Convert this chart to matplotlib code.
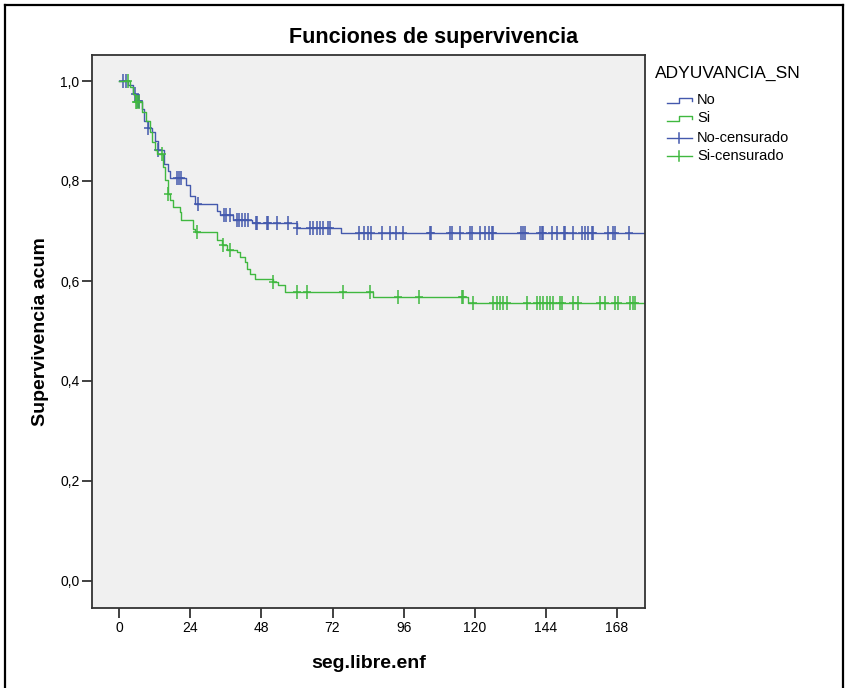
import matplotlib.pyplot as plt
import numpy as np
from matplotlib.lines import Line2D
from matplotlib.path import Path

plt.rcParams['font.family'] = ['Liberation Sans', 'DejaVu Sans']

# Kaplan-Meier steps (time in months, survival level after the step)
no_times = [0, 3.0, 4.7, 6.2, 7.6, 8.3, 9.8, 10.9, 12.0, 13.2, 15.2, 16.3, 17.1, 22.7, 23.9,
            25.6, 32.9, 34.0, 38.5, 44.7, 59.9, 75.0]
no_surv = [1.0, 0.992, 0.975, 0.960, 0.945, 0.920, 0.906, 0.898, 0.880, 0.862, 0.835, 0.820,
           0.806, 0.793, 0.770, 0.755, 0.740, 0.733, 0.723, 0.716, 0.706, 0.697]
no_censored = [1.4, 2.2, 5.3, 6.4, 6.8, 9.8, 13.2, 19.4, 20.2, 21.0, 26.7, 35.3, 36.2, 37.5,
               39.6, 40.5, 41.5, 42.5, 43.5, 46.0, 46.4, 49.8, 50.3, 53.1, 57.0, 59.9, 64.4,
               65.5, 66.6, 67.7, 68.9, 70.6, 71.1, 81.0, 82.5, 84.0, 85.0, 88.6, 91.4, 93.6,
               95.9, 104.9, 105.2, 111.6, 112.2, 115.0, 118.4, 119.0, 121.8, 123.5, 125.0,
               125.7, 126.3, 135.8, 136.4, 137.0, 142.0, 142.6, 143.1, 146.0, 147.7, 150.0,
               150.5, 153.3, 156.1, 157.2, 158.4, 159.5, 160.0, 165.0, 166.8, 167.3, 172.2]

si_times = [0, 3.6, 4.7, 5.3, 7.6, 9.0, 10.4, 10.9, 12.0, 12.6, 14.9, 15.5, 16.5, 17.1, 18.2,
            20.5, 21.0, 25.0, 25.6, 32.9, 34.6, 36.5, 39.6, 40.9, 42.4, 43.0, 44.1, 45.8, 52.0,
            53.7, 55.9, 85.8, 117.8]
si_surv = [1.0, 0.989, 0.975, 0.959, 0.939, 0.920, 0.899, 0.879, 0.862, 0.855, 0.829, 0.802,
           0.775, 0.762, 0.749, 0.739, 0.722, 0.705, 0.699, 0.682, 0.672, 0.662, 0.659, 0.649,
           0.639, 0.625, 0.615, 0.605, 0.599, 0.592, 0.579, 0.569, 0.557]
si_censored = [3.0, 5.5, 6.0, 6.8, 14.3, 16.5, 26.1, 35.1, 37.4, 52.0, 59.9, 63.3, 75.6, 84.6,
               94.2, 101.2, 115.6, 116.1, 119.5, 126.3, 127.4, 128.5, 129.6, 130.8, 137.5,
               140.9, 142.0, 143.1, 144.3, 145.4, 146.5, 148.8, 149.4, 153.3, 155.0, 162.3,
               164.0, 167.4, 168.5, 172.4, 173.5, 174.1]

x_ticks = [0, 24, 48, 72, 96, 120, 144, 168]
y_ticks = [0.0, 0.2, 0.4, 0.6, 0.8, 1.0]

blue = '#4459ad'
green = '#40b840'
W, H = 850, 688

# censor mark: tall vertical bar with a short cross arm
cens_mark = Path([(-0.28, 0), (0.28, 0), (0, -0.5), (0, 0.5)],
                 [Path.MOVETO, Path.LINETO, Path.MOVETO, Path.LINETO])


def px(x, y):
    # pixel position (from top-left) -> figure fraction
    return x / W, 1 - y / H


def draw_km(ax, times, surv, censored, color):
    t = list(times) + [180]
    s = list(surv) + [surv[-1]]
    ax.step(t, s, where='post', color=color, lw=1.0)
    idx = np.searchsorted(times, censored, side='right') - 1
    ax.plot(censored, np.array(surv)[idx], ls='none', marker=cens_mark, ms=10, mew=1.1,
            color=color)


fig = plt.figure(figsize=(W / 100, H / 100), dpi=100)
ax = fig.add_axes([92 / W, 1 - 608 / H, 553 / W, 553 / H])
ax.set_facecolor('#f0f0f0')

draw_km(ax, no_times, no_surv, no_censored, blue)
draw_km(ax, si_times, si_surv, si_censored, green)

ax.set_xlim(-9.2, 177.5)
ax.set_ylim(-0.054, 1.052)
ax.set_xticks(x_ticks)
ax.set_yticks(y_ticks)
ax.set_yticklabels([f'{v:.1f}'.replace('.', ',') for v in y_ticks])
ax.tick_params(length=7, width=1.3, color='#333333', labelsize=10, pad=2)
for sp in ax.spines.values():
    sp.set_color('#333333')
    sp.set_linewidth(1.3)

ax.set_xlabel('seg.libre.enf', fontsize=14, fontweight='bold', labelpad=15)
ax.set_ylabel('Supervivencia acum', fontsize=14, fontweight='bold', labelpad=8)
fig.text(*px(434, 37), 'Funciones de supervivencia', fontsize=15.5, fontweight='bold',
         ha='center', va='center')

# legend drawn by hand (SPSS style step icons)
fig.text(*px(655, 73), 'ADYUVANCIA_SN', fontsize=12.5, ha='left', va='center')
labels = ['No', 'Si', 'No-censurado', 'Si-censurado']
colors = [blue, green, blue, green]
rows = [100, 118, 138, 156]
for i, (lab, c, y) in enumerate(zip(labels, colors, rows)):
    if i < 2:
        xs = [667, 679, 679, 692, 692]
        ys = [y + 3, y + 3, y - 2, y - 2, y + 1]
        pts = [px(a, b) for a, b in zip(xs, ys)]
        fig.add_artist(Line2D([p[0] for p in pts], [p[1] for p in pts], color=c, lw=1.0))
    else:
        p0, p1 = px(667, y), px(692, y)
        fig.add_artist(Line2D([p0[0], p1[0]], [p0[1], p1[1]], color=c, lw=1.0))
        q0, q1 = px(679, y - 5), px(679, y + 5)
        fig.add_artist(Line2D([q0[0], q1[0]], [q0[1], q1[1]], color=c, lw=1.1))
    fig.text(*px(697, y), lab, fontsize=10.5, ha='left', va='center')

# outer frame
for seg in [((5, 5), (5, 688)), ((5, 5), (843, 5)), ((843, 5), (843, 688))]:
    a, b = px(*seg[0]), px(*seg[1])
    fig.add_artist(Line2D([a[0], b[0]], [a[1], b[1]], color='black', lw=1.6))

fig.savefig('out.png', dpi=100)
